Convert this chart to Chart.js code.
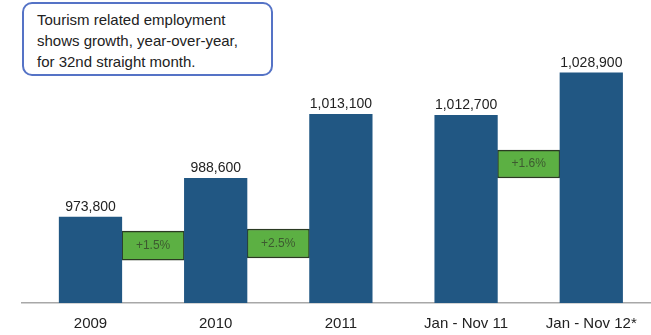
<!DOCTYPE html>
<html>
<head>
<meta charset="utf-8">
<script src="https://cdn.jsdelivr.net/npm/chart.js@4"></script>
<style>
  body { margin: 0; background: #fff; }
  #wrap { position: relative; width: 651px; height: 335px; }
  #note {
    position: absolute;
    left: 22px;
    top: 2px;
    width: 251px;
    height: 74px;
    box-sizing: border-box;
    border: 2px solid #5573c6;
    border-radius: 10px;
    padding: 5px 0 0 13px;
    font: 15px/21px "Liberation Sans", Arial, sans-serif;
    color: #222;
    background: #fff;
  }
</style>
</head>
<body>
<div id="wrap">
  <canvas id="chart" width="651" height="335"></canvas>
  <div id="note">Tourism related employment<br>shows growth, year-over-year,<br>for 32nd straight month.</div>
</div>
<script>
const categories = ["2009", "2010", "2011", "Jan - Nov 11", "Jan - Nov 12*"];
const employment = [973800, 988600, 1013100, 1012700, 1028900];

// growth boxes sit between two bars
const growthAt = [0.5, 1.5, 3.5];
const growthLabels = ["+1.5%", "+2.5%", "+1.6%"];
const growthLow = [957300, 958100, 988700];
const growthHigh = [968400, 969200, 999400];

const fmt = (n) => n.toLocaleString("en-US");

const labelPlugin = {
  id: "labels",
  afterDatasetsDraw(chart) {
    const ctx = chart.ctx;
    ctx.save();
    ctx.textAlign = "center";

    ctx.font = '14px "Liberation Sans", Arial, sans-serif';
    ctx.fillStyle = "#222";
    ctx.textBaseline = "alphabetic";
    chart.getDatasetMeta(0).data.forEach((bar, i) => {
      ctx.fillText(fmt(employment[i]), bar.x, bar.y - 6);
    });

    ctx.font = '12px "Liberation Sans", Arial, sans-serif';
    ctx.fillStyle = "#3d5a30";
    ctx.textBaseline = "middle";
    chart.getDatasetMeta(1).data.forEach((bar, i) => {
      ctx.fillText(growthLabels[i], bar.x, (bar.y + bar.base) / 2);
    });
    ctx.restore();
  },
};

new Chart(document.getElementById("chart"), {
  type: "bar",
  data: {
    datasets: [
      {
        data: employment.map((v, i) => ({ x: i, y: v })),
        backgroundColor: "#215783",
        grouped: false,
        barPercentage: 1,
        categoryPercentage: 1,
      },
      {
        data: growthAt.map((x, i) => ({ x: x, y: [growthLow[i], growthHigh[i]] })),
        backgroundColor: "#5cb043",
        borderColor: "#2b3a22",
        borderWidth: 1.5,
        borderSkipped: false,
        grouped: false,
        barPercentage: 1,
        categoryPercentage: 1,
      },
    ],
  },
  options: {
    responsive: false,
    animation: false,
    layout: { padding: { left: 22, right: 0, top: 0, bottom: 5 } },
    plugins: {
      legend: { display: false },
      tooltip: { enabled: false },
    },
    scales: {
      x: {
        type: "linear",
        offset: false,
        min: -0.547,
        max: 4.477,
        grid: { display: false, drawTicks: false },
        border: { color: "#a8a8a8", width: 1.5 },
        afterBuildTicks: (scale) => {
          scale.ticks = categories.map((c, i) => ({ value: i }));
        },
        afterFit: (scale) => {
          scale.height = 27;
        },
        ticks: {
          padding: 12,
          color: "#222",
          font: { family: '"Liberation Sans", Arial, sans-serif', size: 15 },
          callback: (v) => categories[v],
        },
      },
      y: {
        display: false,
        min: 940900,
        max: 1056800,
      },
    },
  },
  plugins: [labelPlugin],
});
</script>
</body>
</html>
